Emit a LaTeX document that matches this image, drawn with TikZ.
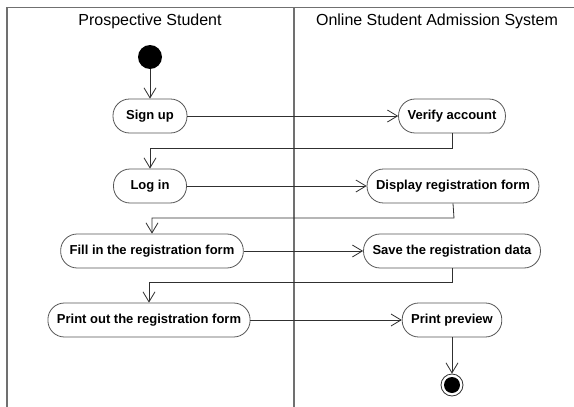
\documentclass[tikz,border=0pt]{standalone}
\usepackage{fontspec}
\setmainfont{Liberation Sans}
\usetikzlibrary{arrows.meta}
\definecolor{lanegray}{HTML}{707070}
\definecolor{linegray}{HTML}{303030}
\definecolor{boxgray}{HTML}{555555}
\tikzset{
  act/.style={draw=boxgray, line width=0.8pt, rounded corners=16.5pt, minimum height=34pt,
    inner xsep=9pt, font=\fontsize{13}{15}\selectfont\bfseries, text=black},
  flow/.style={draw=linegray, line width=0.8pt, -{Straight Barb[length=10pt,width=12pt,line width=0.8pt]}},
  lane/.style={draw=lanegray, line width=2pt},
  head/.style={font=\fontsize{16}{18}\selectfont, text=black},
}
\begin{document}
\begin{tikzpicture}[x=1pt,y=-1pt]
\useasboundingbox (0,0) rectangle (574,407);
% swimlanes
\draw[lanegray, line width=1pt] (7,7) -- (574,7);
\draw[lane] (7,7) -- (7,407);
\draw[lane, line width=2.5pt] (294,7) -- (294,407);
\node[head] (h1) at (150,21) {Prospective Student};
\node[head] (h2) at (437,21) {Online Student Admission System};
% nodes
\node[circle, fill=black, minimum size=24pt, inner sep=0pt] (start) at (150,57) {};
\node[act, minimum width=74pt] (signup) at (150,116) {Sign up};
\node[act] (verify) at (452,116) {Verify account};
\node[act, minimum width=73pt] (login) at (150,186) {Log in};
\node[act] (display) at (453,186) {Display registration form};
\node[act] (fill) at (152,251) {Fill in the registration form};
\node[act] (save) at (452,251) {Save the registration data};
\node[act] (print) at (149,320) {Print out the registration form};
\node[act] (preview) at (452,320) {Print preview};
\node[circle, draw=linegray, line width=0.8pt, minimum size=22pt, inner sep=0pt] (end) at (452,385) {};
\node[circle, fill=black, minimum size=16pt, inner sep=0pt] at (end.center) {};
% flows
\draw[flow] (start) -- (signup);
\draw[flow] (signup) -- (verify);
\draw[flow] (verify.south) -- (452,148) -| (login.north);
\draw[flow] (login) -- (display);
\draw[flow] (display.south) -- (454,218) -| (fill.north);
\draw[flow] (fill) -- (save);
\draw[flow] (save.south) -- (452,282) -| (print.north);
\draw[flow] (print) -- (preview);
\draw[flow] (preview) -- (end);
\end{tikzpicture}
\end{document}
